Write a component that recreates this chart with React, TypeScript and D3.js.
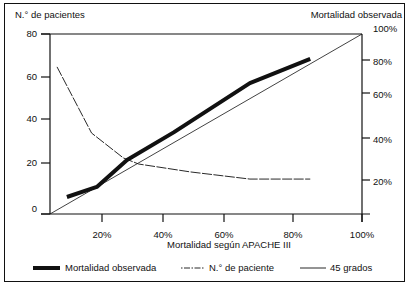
import React from "react";
import * as d3 from "d3";

// Axis ticks
const xTicks = [20, 40, 60, 80, 100];
const leftTicks = [0, 20, 40, 60, 80];
const rightTicks = [20, 40, 60, 80, 100];

// Mortalidad observada (% , against right axis) vs. APACHE III predicted mortality (%)
const obsX = [6.5, 18, 28.2, 43.5, 67.5, 85];
const obsY = [10, 15.9, 29.5, 42.5, 66, 80.8];

// N.º de pacientes (against left axis)
const patX = [2.7, 16, 27, 32, 49, 67.5, 85];
const patY = [64.7, 33.6, 22.3, 19.6, 16.5, 13.7, 13.7];

// 45 grados reference
const refX = [0, 100];
const refY = [0, 100];

const FONT = "'Liberation Sans', Arial, Helvetica, sans-serif";

export default function App() {
  const W = 413, H = 287;
  const x = d3.scaleLinear().domain([0, 20, 40, 60, 80, 100]).range([50, 102, 163, 224, 293, 362]);
  const yL = d3.scaleLinear().domain([0, 20, 40, 60, 80]).range([214, 163, 119, 77, 34]);
  const yR = d3.scaleLinear().domain([0, 20, 40, 60, 80, 100]).range([214, 180, 138, 93, 60, 34]);

  const lineR = d3.line<[number, number]>().x(d => x(d[0])).y(d => yR(d[1]));
  const lineL = d3.line<[number, number]>().x(d => x(d[0])).y(d => yL(d[1]));

  const obs = obsX.map((v, i) => [v, obsY[i]] as [number, number]);
  const pat = patX.map((v, i) => [v, patY[i]] as [number, number]);
  const ref = refX.map((v, i) => [v, refY[i]] as [number, number]);

  const ink = "#111";
  const fs = 9.5;

  return (
    <svg width={W} height={H} style={{ position: "absolute", left: 0, top: 0, background: "#fff" }} fontFamily={FONT}>
      <rect x={0} y={0} width={W} height={H} fill="#fff" />
      <rect x={4.5} y={3.5} width={400} height={278} fill="none" stroke={ink} strokeWidth={1} />

      {/* axes frame */}
      <line x1={41} x2={x(100)} y1={yL(80)} y2={yL(80)} stroke={ink} strokeWidth={1.2} />
      <line x1={x(0)} x2={x(0)} y1={yL(80)} y2={yL(0)} stroke={ink} strokeWidth={1.2} />
      <line x1={41} x2={370} y1={yL(0)} y2={yL(0)} stroke={ink} strokeWidth={1.2} />
      <line x1={x(100)} x2={x(100)} y1={yR(100)} y2={222} stroke={ink} strokeWidth={1.2} />

      {/* left ticks */}
      {leftTicks.map(t => (
        <g key={"l" + t}>
          <line x1={41} x2={50} y1={yL(t)} y2={yL(t)} stroke={ink} strokeWidth={1.2} />
          <text x={37} y={yL(t) - (t === 0 ? 5 : 0)} dy="0.35em" textAnchor="end" fontSize={fs} fill={ink}>{t}</text>
        </g>
      ))}
      {/* right ticks */}
      {rightTicks.map(t => (
        <g key={"r" + t}>
          {t !== 100 && <line x1={x(100)} x2={370} y1={yR(t)} y2={yR(t)} stroke={ink} strokeWidth={1.2} />}
          <text x={373} y={yR(t) + (t === 100 ? -5 : 2)} dy="0.35em" textAnchor="start" fontSize={fs} fill={ink}>{t}%</text>
        </g>
      ))}
      {/* bottom ticks */}
      {xTicks.map(t => (
        <g key={"b" + t}>
          <line x1={x(t)} x2={x(t)} y1={214} y2={222} stroke={ink} strokeWidth={1.2} />
          <text x={x(t)} y={235} dy="0.35em" textAnchor="middle" fontSize={fs} fill={ink}>{t}%</text>
        </g>
      ))}

      {/* titles */}
      <text x={15} y={15} dy="0.35em" fontSize={fs} fill={ink}>N.° de pacientes</text>
      <text x={402} y={15} dy="0.35em" textAnchor="end" fontSize={fs} fill={ink}>Mortalidad observada</text>
      <text x={229} y={245} dy="0.35em" textAnchor="middle" fontSize={fs} fill={ink}>Mortalidad según APACHE III</text>

      {/* series */}
      <path d={lineR(ref) || ""} fill="none" stroke={ink} strokeWidth={0.8} />
      <path d={lineL(pat) || ""} fill="none" stroke={ink} strokeWidth={0.9} strokeDasharray="10,1.5" />
      <path d={lineR(obs) || ""} fill="none" stroke={ink} strokeWidth={4} strokeLinejoin="round" />

      {/* legend */}
      <line x1={33} x2={60} y1={268} y2={268} stroke={ink} strokeWidth={4} />
      <text x={65} y={268} dy="0.35em" fontSize={fs} fill={ink}>Mortalidad observada</text>
      <line x1={181} x2={204} y1={268} y2={268} stroke={ink} strokeWidth={0.9} strokeDasharray="1.5,1.5,6,1.5" />
      <text x={209} y={268} dy="0.35em" fontSize={fs} fill={ink}>N.° de paciente</text>
      <line x1={300} x2={326} y1={268} y2={268} stroke={ink} strokeWidth={0.9} />
      <text x={330} y={268} dy="0.35em" fontSize={fs} fill={ink}>45 grados</text>
    </svg>
  );
}
